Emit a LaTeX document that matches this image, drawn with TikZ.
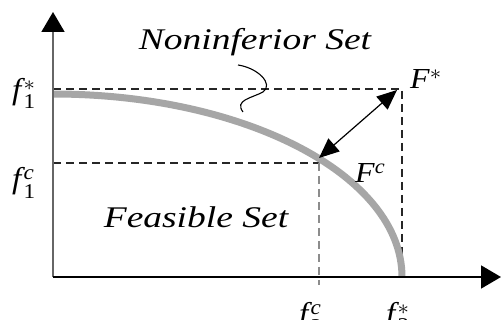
\documentclass[tikz,border=0pt]{standalone}
\usepackage{amsmath}
\usepackage{fontspec}
\setmainfont{Liberation Serif}
\usetikzlibrary{arrows.meta}
\newcommand{\flab}[2]{\textit{f}\kern-0.05em$_{\text{\upshape #1}}^{#2}$}
\begin{document}
\begin{tikzpicture}[x=1pt,y=-1pt,
  axis/.style={line width=1.8pt},
  guide/.style={line width=1.3pt, dash pattern=on 8pt off 5pt, black!85},
  front/.style={line width=7pt, gray!70},
  lab/.style={font=\fontsize{30}{30}\selectfont\itshape, xscale=1.25, inner sep=0pt},
  ticklab/.style={font=\fontsize{30}{30}\selectfont, xscale=1.1, inner sep=0pt},
  ptlab/.style={font=\fontsize{29}{29}\selectfont, xscale=1.1, inner sep=0pt},
  bigtip/.tip={Triangle[length=20pt,width=23pt]},
  dtip/.tip={Triangle[length=20pt,width=17pt]}]
\useasboundingbox (0,0) rectangle (501,320);
\fill[white] (0,0) rectangle (501,320);
\coordinate (O) at (53,277);
\coordinate (Ytop) at (53,12);
\coordinate (Xend) at (501,277);
\coordinate (Y1s) at (53,89);
\coordinate (Y1c) at (53,163);
\coordinate (Fstar) at (402,89);
\coordinate (Fs) at (397,90);
\coordinate (Fc) at (319,158);
\coordinate (X2c) at (319,285);
\coordinate (X2s) at (402,277);
\coordinate (H1c) at (319,163);
% guides
\draw[guide] (Y1s) -- (Fstar) -- (X2s);
\draw[guide] (Y1c) -- (H1c);
\draw[guide, black!45] (H1c) -- (X2c);
% front
\draw[front] (53,94) arc[start angle=-90, end angle=0, x radius=349, y radius=183];
% axes
\draw[axis, black!60, -{bigtip[black]}] (O) -- (Ytop);
\draw[axis, -bigtip] (O) -- (Xend);
% double arrow
\draw[line width=1.2pt, dtip-dtip] (Fc) -- (Fs);
% squiggle
\draw[line width=1.1pt] (238,65) .. controls (258,68) and (274,84) .. (263,92) .. controls (252,98) and (234,100) .. (243,112);
% labels
\node[lab, anchor=base] (nis) at (255,50) {Noninferior Set};
\node[lab, anchor=base] (fs) at (196,228) {Feasible Set};
\node[ticklab, anchor=base west] (f1s) at (12,100) {\flab{1}{*}};
\node[ticklab, anchor=base west] (f1c) at (12,189) {\flab{1}{\text{\itshape c}}};
\node[ticklab, anchor=base west] (f2c) at (299,324) {\flab{2}{\text{\itshape c}}};
\node[ticklab, anchor=base west] (f2s) at (386,324) {\flab{2}{*}};
\node[ptlab, anchor=base west] (lFs) at (410,89) {\textit{F}$^{*}$};
\node[ptlab, anchor=base west] (lFc) at (355,183) {\textit{F}$^{\text{\itshape c}}$};
\end{tikzpicture}
\end{document}
